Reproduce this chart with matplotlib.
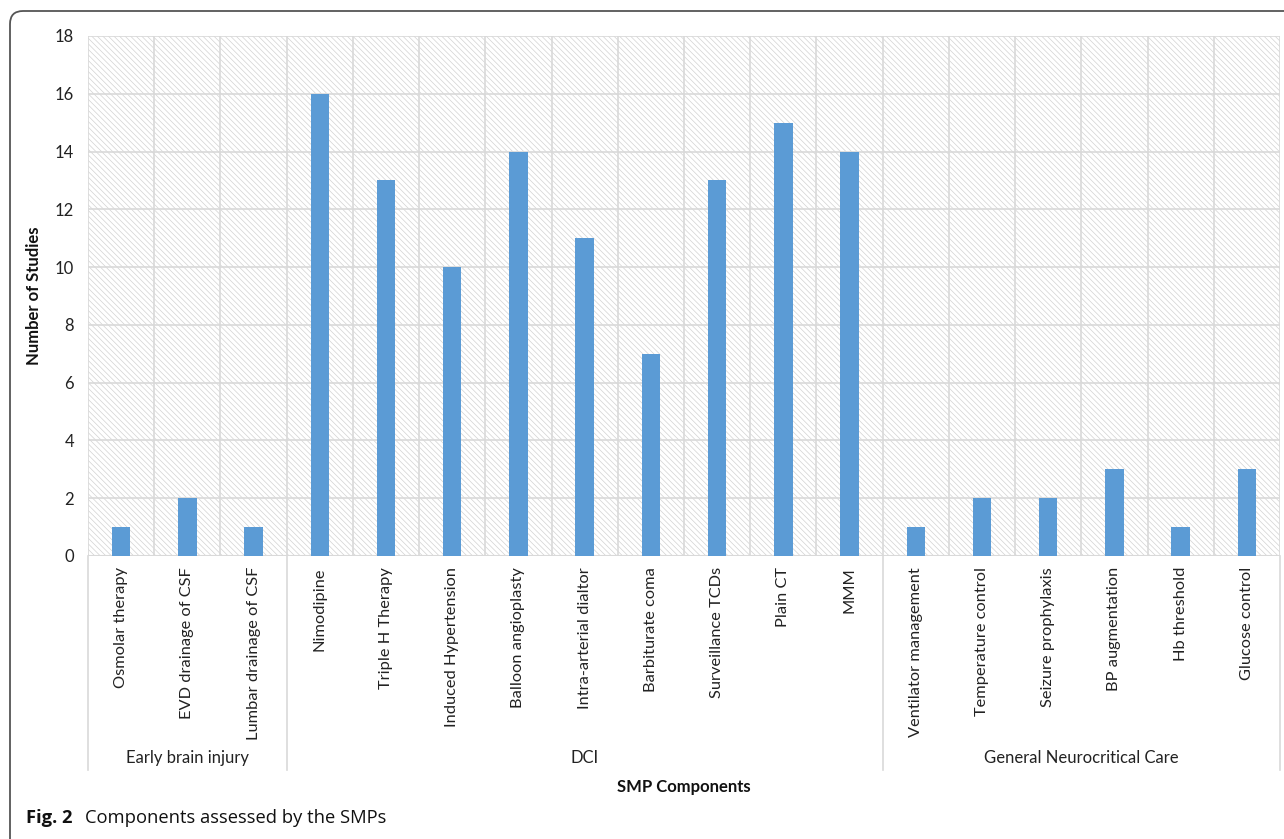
import matplotlib
matplotlib.use("Agg")
from matplotlib import pyplot as plt
from matplotlib.patches import FancyBboxPatch, Rectangle
import numpy as np

categories = ["Osmolar therapy", "EVD drainage of CSF", "Lumbar drainage of CSF",
              "Nimodipine", "Triple H Therapy", "Induced Hypertension", "Balloon angioplasty",
              "Intra-arterial dialtor", "Barbiturate coma", "Surveillance TCDs", "Plain CT", "MMM",
              "Ventilator management", "Temperature control", "Seizure prophylaxis",
              "BP augmentation", "Hb threshold", "Glucose control"]
studies = [1, 2, 1, 16, 13, 10, 14, 11, 7, 13, 15, 14, 1, 2, 2, 3, 1, 3]
groups = ["Early brain injury", "DCI", "General Neurocritical Care"]
group_sizes = [3, 9, 6]
yticks = [0, 2, 4, 6, 8, 10, 12, 14, 16, 18]

plt.rcParams['font.family'] = ['Lato', 'DejaVu Sans']
plt.rcParams['hatch.linewidth'] = 0.5
plt.rcParams['hatch.color'] = '#d2d2d2'

W, H = 1284, 839
fig = plt.figure(figsize=(W / 100, H / 100), dpi=100)

# background frame with rounded corner (pixel coordinates)
bg = fig.add_axes([0, 0, 1, 1], zorder=-1)
bg.set_xlim(0, W)
bg.set_ylim(H, 0)
bg.axis('off')
bg.add_patch(FancyBboxPatch((10, 11), 1320, 860, boxstyle="round,pad=0,rounding_size=13",
                            fc='white', ec='#555555', lw=1.3))

left, right, top, bottom = 88, 1280, 36, 556
ax = fig.add_axes([left / W, 1 - bottom / H, (right - left) / W, (bottom - top) / H])
ax.patch.set_alpha(0)
ax.add_patch(Rectangle((0, 0), 1, 1, transform=ax.transAxes, facecolor='white',
                       hatch='\\\\\\\\\\\\', edgecolor='#d2d2d2', lw=0, zorder=0))

x = np.arange(len(categories))
ax.bar(x, studies, width=0.28, color='#5B9BD5', zorder=3)

ax.set_xlim(-0.5, len(categories) - 0.5)
ax.set_ylim(0, 18)
ax.set_yticks(yticks)
ax.set_yticklabels([str(v) for v in yticks], fontsize=12, color='#222222')
ax.set_xticks(x)
ax.set_xticklabels(categories, rotation=90, fontsize=11.8, color='#222222', va='top')
ax.set_xticks(np.arange(-0.5, len(categories)), minor=True)
ax.tick_params(axis='both', which='both', length=0)
ax.tick_params(axis='y', pad=10)
ax.tick_params(axis='x', pad=8)
ax.grid(axis='y', which='major', color='#d9d9d9', lw=1.2, zorder=1)
ax.grid(axis='x', which='minor', color='#d9d9d9', lw=1.2, zorder=1)
ax.grid(axis='x', which='major', visible=False)
for s in ax.spines.values():
    s.set_visible(False)
ax.axhline(0, color='#d9d9d9', lw=1.5, zorder=2)

# group separators and labels below the axis
depth = -(770 - bottom) / (bottom - top)
edges = np.concatenate([[0], np.cumsum(group_sizes)]) - 0.5
for e in edges:
    ax.plot([e, e], [0, depth], color='#d9d9d9', lw=1.2, transform=ax.get_xaxis_transform(),
            clip_on=False)
for i, g in enumerate(groups):
    ax.text((edges[i] + edges[i + 1]) / 2, -(758 - bottom) / (bottom - top), g,
            transform=ax.get_xaxis_transform(), ha='center', va='center', fontsize=12,
            color='#222222')

fig.text((left + right) / 2 / W, 1 - 787 / H, "SMP Components", ha='center', va='center',
         fontsize=12, fontweight='bold', color='#111111')
fig.text(34 / W, 1 - 296 / H, "Number of Studies", ha='center', va='center', rotation=90,
         fontsize=12, fontweight='bold', color='#111111')

fig.text(26 / W, 1 - 818 / H, "Fig. 2", ha='left', va='center', fontsize=13.2,
         fontweight='bold', color='#111111', family=['Open Sans', 'DejaVu Sans'])
fig.text(85 / W, 1 - 818 / H, "Components assessed by the SMPs", ha='left', va='center',
         fontsize=13.2, color='#111111', family=['Open Sans', 'DejaVu Sans'])

fig.savefig("out.png", dpi=100)
